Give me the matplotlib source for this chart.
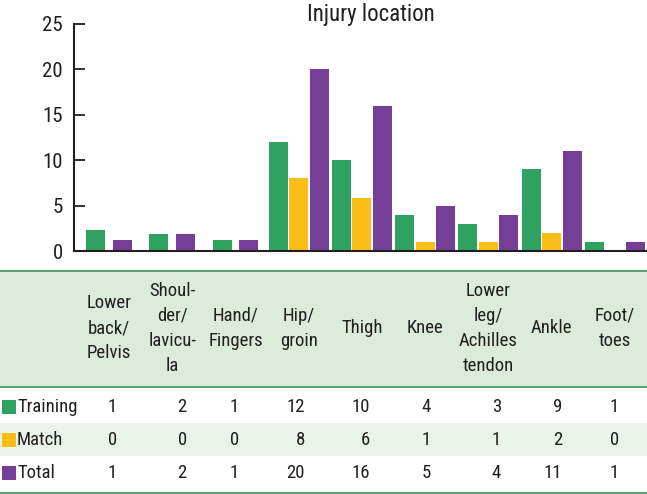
import matplotlib
matplotlib.use("Agg")
import matplotlib.pyplot as plt
from matplotlib.patches import Rectangle
from matplotlib.lines import Line2D
import matplotlib.transforms as mtransforms
from matplotlib import font_manager

# ---- data ----
categories = ["Lower\nback/\nPelvis", "Shoul-\nder/\nlavicu-\nla", "Hand/\nFingers", "Hip/\ngroin",
              "Thigh", "Knee", "Lower\nleg/\nAchilles\ntendon", "Ankle", "Foot/\ntoes"]
# bar heights as drawn in the picture
training_bars = [2.35, 1.9, 1.25, 12, 10, 4, 3, 9, 1]
match_bars = [0, 0, 0, 8, 5.8, 1, 1, 2, 0]
total_bars = [1.25, 1.9, 1.25, 20, 16, 5, 4, 11, 1]
# values printed in the table
training_table = ["1", "2", "1", "12", "10", "4", "3", "9", "1"]
match_table = ["0", "0", "0", "8", "6", "1", "1", "2", "0"]
total_table = ["1", "2", "1", "20", "16", "5", "4", "11", "1"]
series_names = ["Training", "Match", "Total"]
yticks = [0, 5, 10, 15, 20, 25]
title = "Injury location"

# ---- style / layout ----
names = {f.name for f in font_manager.fontManager.ttflist}
cands = [n for n in ["Liberation Sans Narrow", "Roboto Condensed", "Open Sans Condensed"] if n in names]
stretched = [f for f in font_manager.fontManager.ttflist
             if f.name == "DejaVu Sans" and f.stretch in ("condensed", "semi-condensed")]
if cands:
    plt.rcParams["font.family"] = [cands[0], "DejaVu Sans"]
else:
    plt.rcParams["font.family"] = ["DejaVu Sans"]
    if stretched:
        plt.rcParams["font.stretch"] = stretched[0].stretch

GREEN = "#2fa262"
YELLOW = "#fbbd17"
PURPLE = "#753f97"
colors = [GREEN, YELLOW, PURPLE]
TXT = "#231f20"
LINE_GREEN = "#4a9b62"
HEADER_BG = "#dcebdc"
MATCH_BG = "#eaf3ea"
two_bar_groups = 3          # first groups drawn without a match slot
value_dx = [0.13, 0.23, 0.06, 0.10, 0.13, 0.09, 0.20, 0.17, 0.07]
FS = 13.5

W, H = 647, 494
fig = plt.figure(figsize=(W / 100, H / 100), dpi=100)
ax = fig.add_axes([74 / W, 1 - 251.3 / H, (W - 74) / W, 227.6 / H])

bw = 0.30
for i in range(len(categories)):
    vals = [training_bars[i], match_bars[i], total_bars[i]]
    if i < two_bar_groups:
        offs = [(-0.21, 0), (0.21, 2)]
    else:
        offs = [(-0.324, 0), (0.0, 1), (0.324, 2)]
    for off, k in offs:
        if vals[k] > 0:
            ax.bar(i + off, vals[k], width=bw, color=colors[k], edgecolor="none")

ax.set_xlim(-0.554, 8.51)
ax.set_ylim(0, 25)
ax.set_yticks(yticks)
ax.set_yticklabels([str(t) for t in yticks], fontsize=15, color=TXT)
ax.set_xticks([])
for s in ["top", "right"]:
    ax.spines[s].set_visible(False)
for s in ["left", "bottom"]:
    ax.spines[s].set_linewidth(1.5)
    ax.spines[s].set_color(TXT)
ax.tick_params(axis="y", direction="in", length=8, width=1.3, pad=8, colors=TXT)
fig.text(371 / W, 1 - 14 / H, title, ha="center", va="center", fontsize=16.5, color=TXT)

# ---- table ----
def fy(px):
    return 1 - px / H

fig.patches.append(Rectangle((0, fy(386.7)), 1, fy(270.7) - fy(386.7), transform=fig.transFigure,
                             facecolor=HEADER_BG, edgecolor="none", zorder=0))
fig.patches.append(Rectangle((0, fy(456)), 1, fy(422.7) - fy(456), transform=fig.transFigure,
                             facecolor=MATCH_BG, edgecolor="none", zorder=0))
for ypx in [270.7, 386.7, 492.7]:
    fig.lines.append(Line2D([0, 1], [fy(ypx), fy(ypx)], transform=fig.transFigure,
                            color=LINE_GREEN, linewidth=1.3))

blend = mtransforms.blended_transform_factory(ax.transData, fig.transFigure)
for i, cat in enumerate(categories):
    fig.text(i, fy(328), cat, transform=blend, ha="center", va="center",
             fontsize=FS, color=TXT, linespacing=1.5)

row_y = [406.7, 440, 473.3]
tables = [training_table, match_table, total_table]
for r in range(3):
    y = fy(row_y[r])
    fig.patches.append(Rectangle((1.5 / W, y - 7 / H), 14.5 / W, 14 / H, transform=fig.transFigure,
                                 facecolor=colors[r], edgecolor="none"))
    fig.text(17 / W, y, series_names[r], ha="left", va="center", fontsize=FS, color=TXT)
    for i, v in enumerate(tables[r]):
        fig.text(i + value_dx[i], y, v, transform=blend, ha="right", va="center",
                 fontsize=FS, color=TXT)

fig.savefig("out.png", dpi=100)
